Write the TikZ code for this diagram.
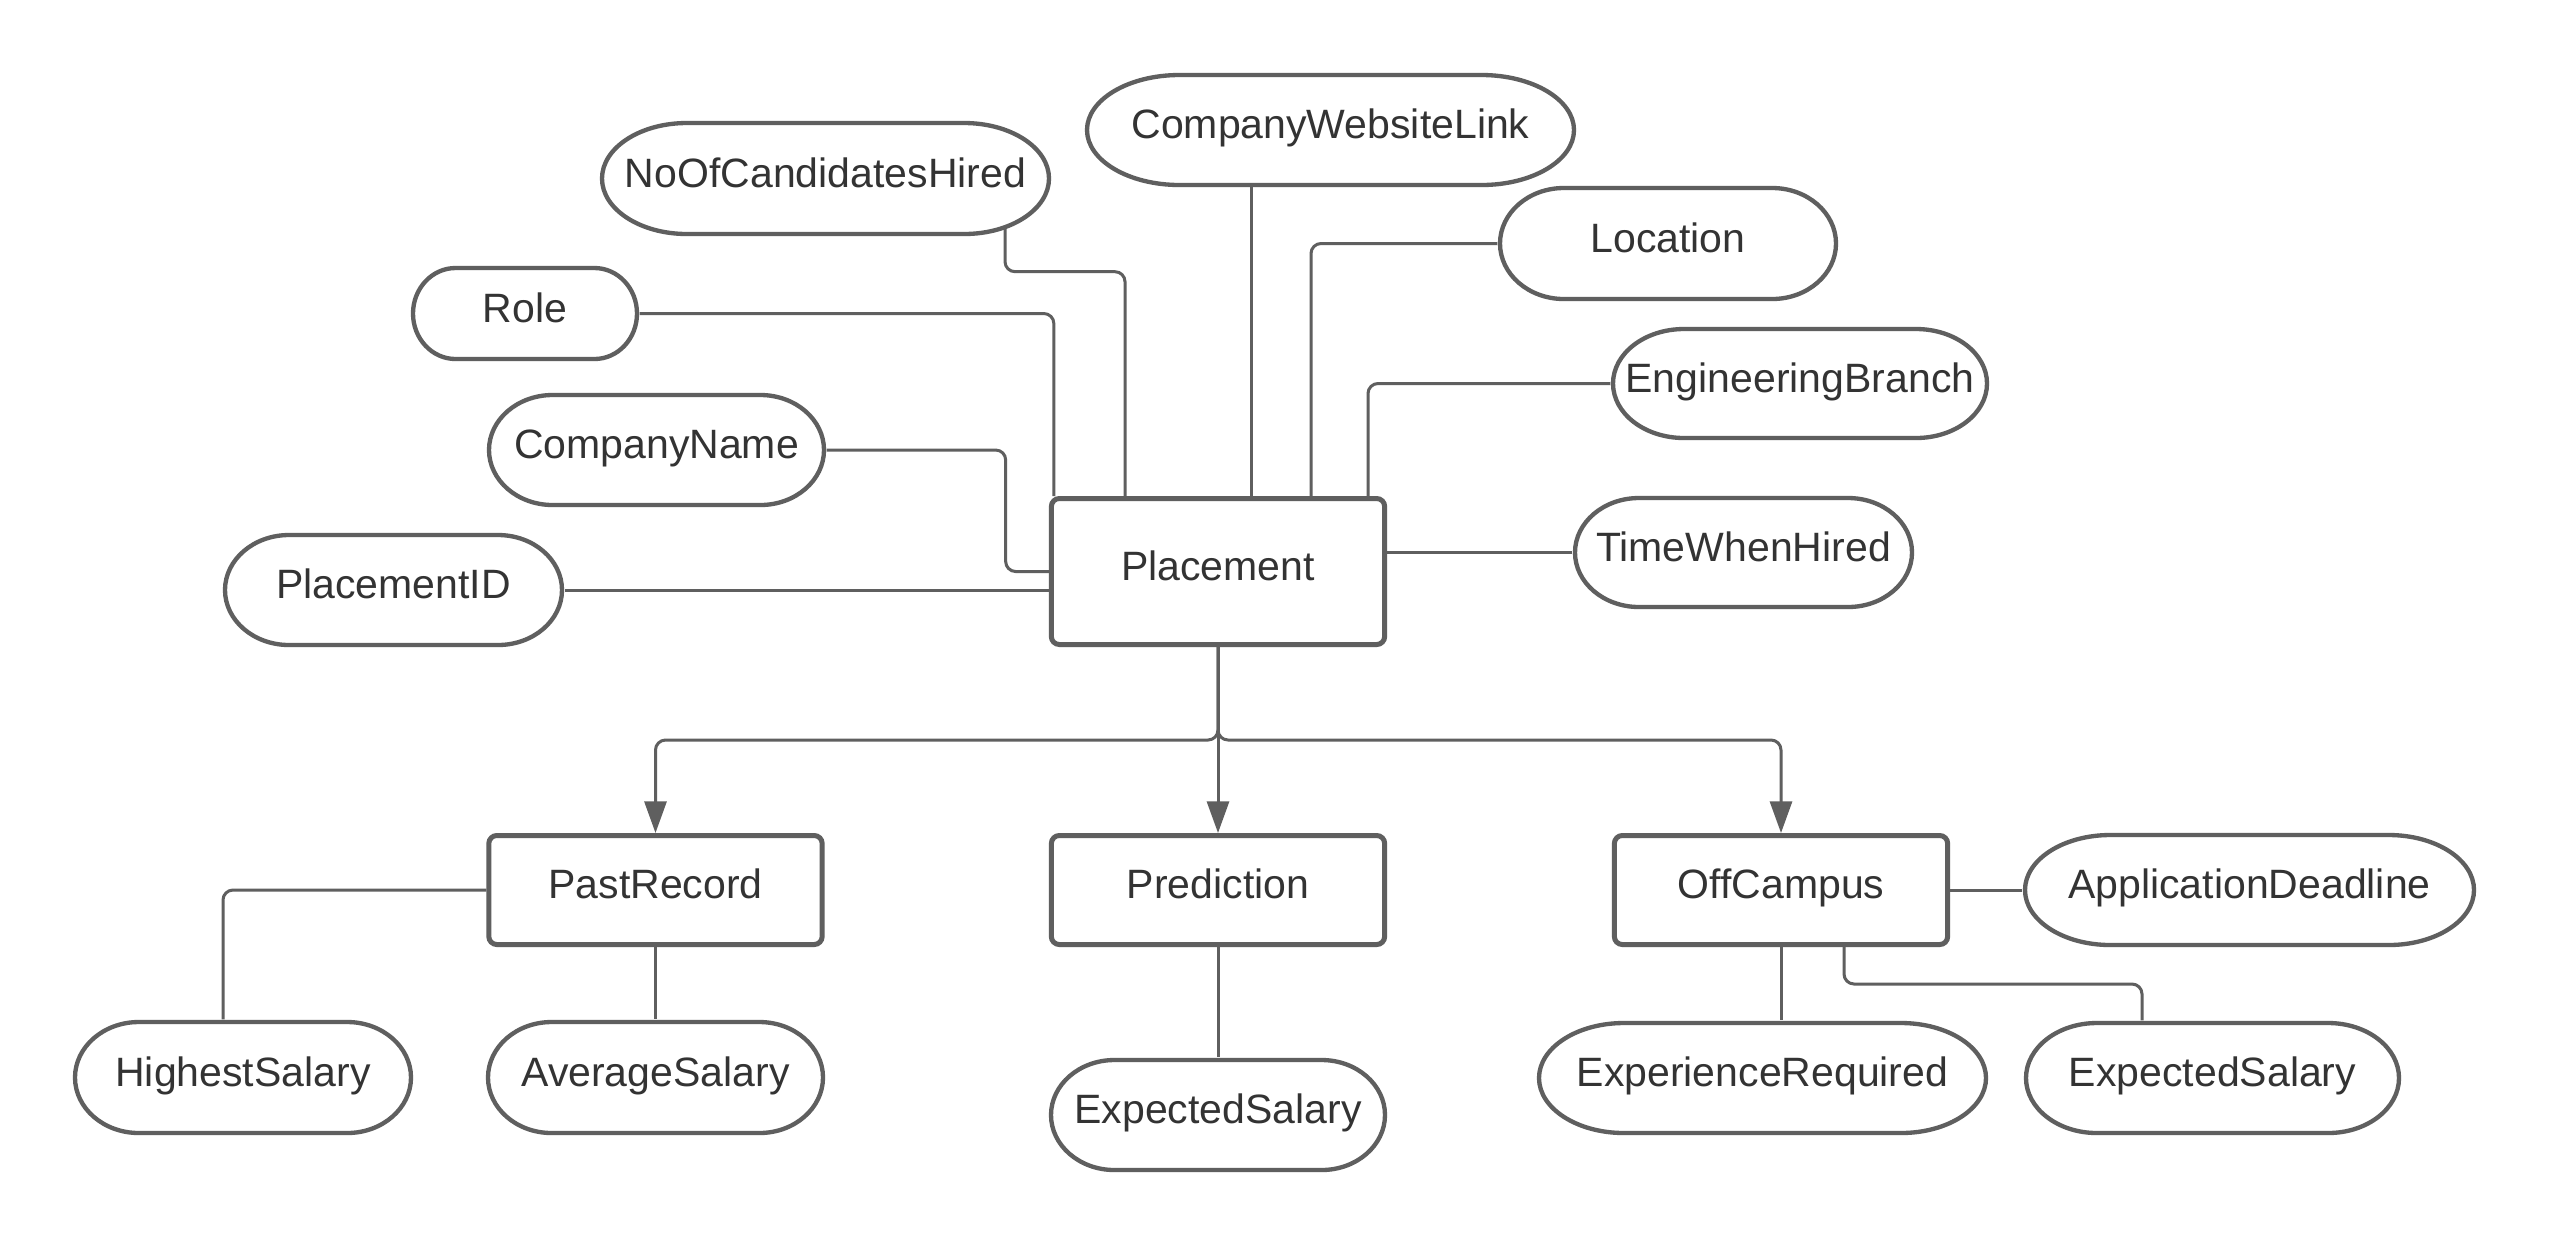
\documentclass[tikz,border=0pt]{standalone}
\usepackage{fontspec}
\setmainfont{Liberation Sans}
\usetikzlibrary{arrows.meta,calc,backgrounds}
\definecolor{lc}{HTML}{5F5F5F}
\definecolor{tc}{HTML}{333333}
\tikzset{
  attrshape/.style={draw=lc, line width=1.3pt, fill=white},
  lbl/.style={text=tc, font=\fontsize{12.3pt}{14pt}\selectfont, inner sep=0pt, text height=0.73em, text depth=0.21em},
  entity/.style={lbl, draw=lc, line width=1.5pt, fill=white, rounded corners=2.4pt},
  conn/.style={draw=lc, line width=0.9pt, rounded corners=3pt},
  arr/.style={conn, -{Triangle[width=6.6pt,length=9.5pt]}},
}
\newcommand\attrbox[6]{%
  \pgfmathsetmacro\aX{#2}\pgfmathsetmacro\aY{-(#3)}%
  \pgfmathsetmacro\aHW{(#4-4)/2}\pgfmathsetmacro\aHH{(#5-4)/2}\pgfmathsetmacro\aRX{0.19*(#4-4)}%
  \draw[attrshape] (\aX-\aHW+\aRX,\aY+\aHH) -- (\aX+\aHW-\aRX,\aY+\aHH)
     arc[start angle=90,end angle=-90,x radius=\aRX,y radius=\aHH]
     -- (\aX-\aHW+\aRX,\aY-\aHH)
     arc[start angle=270,end angle=90,x radius=\aRX,y radius=\aHH] -- cycle;
  \node[lbl, minimum width={(#4)*0.3pt}, minimum height={(#5)*0.3pt}] (#1) at (\aX,\aY) {#6};
}
\begin{document}
\begin{tikzpicture}[x=0.3pt,y=0.3pt]
\useasboundingbox (0,0) rectangle (2550,-1247);

% entities
\node[entity, minimum width=100pt, minimum height=43.8pt] (plc) at (1218,-571.5) {Placement};
\node[entity, minimum width=100pt, minimum height=32.7pt] (pr) at (655.5,-890) {PastRecord};
\node[entity, minimum width=100pt, minimum height=32.7pt] (pred) at (1218,-890) {Prediction};
\node[entity, minimum width=100pt, minimum height=32.7pt] (off) at (1781,-890) {OffCampus};

% attributes
\attrbox{pid}{393.5}{590}{341}{114}{PlacementID}
\attrbox{cn}{656.5}{450}{339}{114}{CompanyName}
\attrbox{role}{525}{313.5}{228}{95}{Role}
\attrbox{noc}{825.5}{178.5}{451}{115}{NoOfCandidatesHired}
\attrbox{cwl}{1330.5}{130}{491}{114}{CompanyWebsiteLink}
\attrbox{loc}{1668}{243.5}{340}{115}{Location}
\attrbox{eng}{1800}{383.5}{378}{113}{EngineeringBranch}
\attrbox{twh}{1743.5}{552.5}{341}{113}{TimeWhenHired}
\attrbox{ad}{2249.5}{890}{453}{114}{ApplicationDeadline}
\attrbox{hs}{243}{1077.5}{340}{115}{HighestSalary}
\attrbox{avg}{655.5}{1077.5}{339}{115}{AverageSalary}
\attrbox{es1}{1218}{1115}{338}{114}{ExpectedSalary}
\attrbox{er}{1762.5}{1078}{451}{114}{ExperienceRequired}
\attrbox{es2}{2212.5}{1078}{377}{114}{ExpectedSalary}

\begin{pgfonlayer}{background}
\fill[white] (0,0) rectangle (2550,-1247);
\draw[conn] (pid.east) -- (pid.east -| plc.west);
\draw[conn] (cn.east) -- ++(179,0) |- (plc.west);
\draw[conn] (role.east) -| ($(plc.north west)+(5,0)$);
\draw[conn] ($(noc.south)+(179.5,20)$) -- ++(0,-55) -| ($(plc.north)+(-93,0)$);
\draw[conn] ($(plc.north)+(33,0)$) -- ++(0,320);
\draw[conn] (loc.west) -| ($(plc.north)+(93,0)$);
\draw[conn] (eng.west) -| ($(plc.north)+(150,0)$);
\draw[conn] (twh.west) -- (twh.west -| plc.east);
\draw[arr] (plc.south) -- (pred.north);
\draw[arr] (plc.south) -- ++(0,-93) -| (pr.north);
\draw[arr] (plc.south) -- ++(0,-93) -| (off.north);
\draw[conn] (pr.west) -| ($(hs.north)+(-20,0)$);
\draw[conn] (pr.south) -- (avg.north);
\draw[conn] (pred.south) -- (es1.north);
\draw[conn] (off.east) -- (ad.west);
\draw[conn] (off.south) -- (off.south |- er.north);
\draw[conn] ($(off.south)+(63,0)$) -- ++(0,-37) -| ($(es2.north)+(-70.5,0)$);
\end{pgfonlayer}
\end{tikzpicture}
\end{document}
